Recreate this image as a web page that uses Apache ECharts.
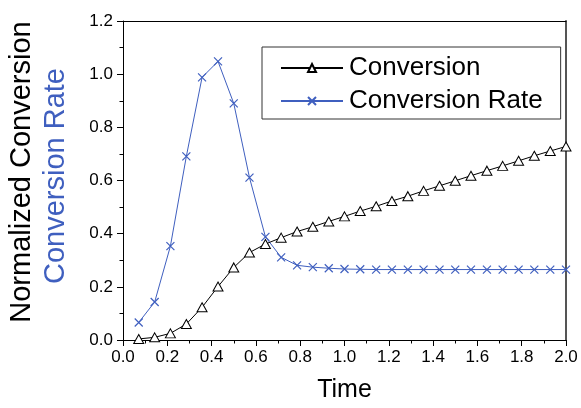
<!DOCTYPE html>
<html>
<head>
<meta charset="utf-8">
<script src="https://cdn.jsdelivr.net/npm/echarts@6/dist/echarts.min.js"></script>
<style>html,body{margin:0;padding:0;background:#fff;}#c{width:581px;height:408px;}</style>
</head>
<body>
<div id="c"></div>
<script>
var timeValues = [0.071,0.143,0.214,0.286,0.357,0.429,0.500,0.571,0.643,0.714,0.786,0.857,0.929,1.000,
  1.071,1.143,1.214,1.286,1.357,1.429,1.500,1.571,1.643,1.714,1.786,1.857,1.929,2.000];
var conversion = [0.004,0.010,0.025,0.060,0.123,0.201,0.273,0.329,0.361,0.385,0.408,0.426,0.446,0.465,
  0.485,0.503,0.523,0.541,0.561,0.580,0.599,0.618,0.637,0.655,0.674,0.693,0.711,0.728];
var conversionRate = [0.066,0.143,0.353,0.691,0.988,1.048,0.890,0.611,0.388,0.311,0.281,0.274,0.270,0.267,
  0.266,0.265,0.265,0.265,0.265,0.265,0.265,0.265,0.265,0.265,0.265,0.265,0.265,0.265];
var seriesNames = ['Conversion', 'Conversion Rate'];
var xAxisTitle = 'Time';
var yTitleBlack = 'Normalized Conversion';
var yTitleBlue = 'Conversion Rate';

var BLUE = '#3F5FBF';
var FONT = 'Liberation Sans, Arial, sans-serif';

function pairs(xs, ys) { return xs.map(function (x, i) { return [x, ys[i]]; }); }

var chart = echarts.init(document.getElementById('c'), null, {renderer: 'canvas'});
var fmt = function (v) { return v.toFixed(1); };
var axisCommon = {
  type: 'value',
  axisLine: {show: true, lineStyle: {color: '#000', width: 1}},
  axisTick: {show: true, length: 6, inside: false, lineStyle: {color: '#000', width: 1}},
  minorTick: {show: true, splitNumber: 2, length: 3.5, lineStyle: {color: '#000', width: 1}},
  splitLine: {show: false},
  minorSplitLine: {show: false}
};
chart.setOption({
  animation: false,
  backgroundColor: '#fff',
  grid: {left: 123, right: 15, top: 21, bottom: 63.5, show: false},
  xAxis: [
    Object.assign({}, axisCommon, {
      position: 'bottom', min: 0, max: 2, interval: 0.2,
      axisLabel: {formatter: fmt, fontSize: 17, color: '#000', fontFamily: FONT, margin: 9},
      name: xAxisTitle, nameLocation: 'middle', nameGap: 38,
      nameTextStyle: {fontSize: 25, color: '#000', fontFamily: FONT}
    }),
    {type: 'value', position: 'top', min: 0, max: 2, axisLine: {show: true, onZero: false, lineStyle: {color: '#000', width: 1}},
      axisTick: {show: false}, axisLabel: {show: false}, splitLine: {show: false}}
  ],
  yAxis: [
    Object.assign({}, axisCommon, {
      position: 'left', min: 0, max: 1.2, interval: 0.2,
      axisLabel: {formatter: fmt, fontSize: 17, color: '#000', fontFamily: FONT, margin: 10}
    }),
    {type: 'value', position: 'right', min: 0, max: 1.2, axisLine: {show: true, onZero: false, lineStyle: {color: '#555', width: 2}},
      axisTick: {show: false}, axisLabel: {show: false}, splitLine: {show: false}}
  ],
  legend: {
    left: 262, top: 47, orient: 'vertical',
    backgroundColor: '#fff', borderColor: '#333', borderWidth: 1,
    padding: [8, 18, 5, 18], itemGap: 7, itemWidth: 62, itemHeight: 10,
    textStyle: {fontSize: 26, color: '#000', fontFamily: FONT, padding: [0, 0, 0, 1]},
    data: seriesNames
  },
  graphic: [
    {type: 'text', x: 22, y: 172, rotation: Math.PI / 2,
      style: {text: yTitleBlack, fontSize: 29, fontFamily: FONT, fill: '#000', align: 'center', verticalAlign: 'middle'}},
    {type: 'text', x: 56, y: 176, rotation: Math.PI / 2,
      style: {text: yTitleBlue, fontSize: 29, fontFamily: FONT, fill: BLUE, align: 'center', verticalAlign: 'middle'}}
  ],
  series: [
    {
      name: seriesNames[0], type: 'line', data: pairs(timeValues, conversion),
      symbol: 'triangle', symbolSize: [10, 9], showAllSymbol: true, z: 3,
      lineStyle: {color: '#000', width: 1},
      itemStyle: {color: '#fff', borderColor: '#000', borderWidth: 1}
    },
    {
      name: seriesNames[1], type: 'line', data: pairs(timeValues, conversionRate),
      symbol: 'path://M0,0L10,10M0,10L10,0', symbolSize: 8, showAllSymbol: true, z: 2,
      lineStyle: {color: BLUE, width: 1},
      itemStyle: {color: BLUE, borderColor: BLUE, borderWidth: 1.2}
    }
  ]
});
</script>
</body>
</html>
